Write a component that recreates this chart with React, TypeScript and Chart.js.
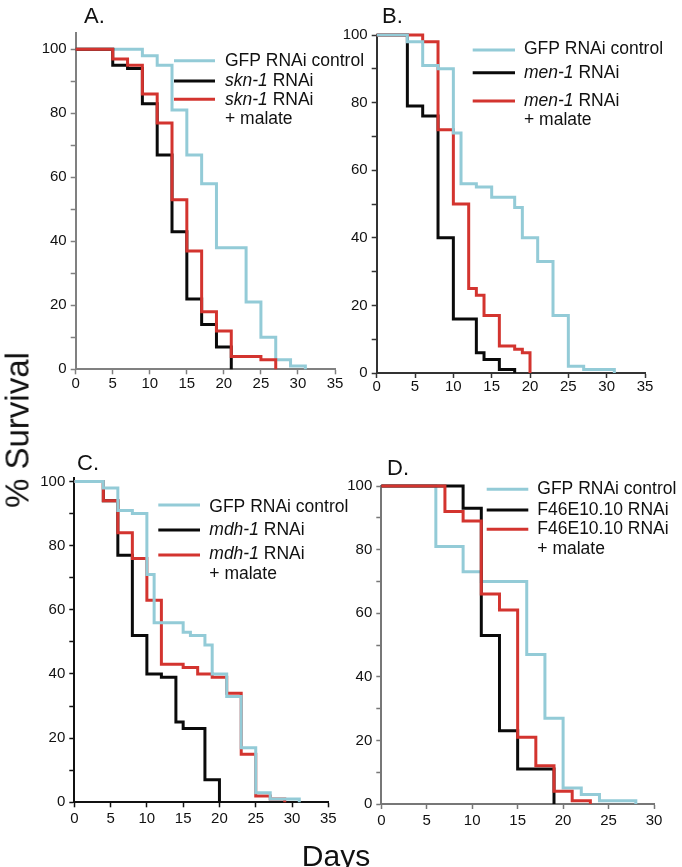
import React, { useEffect, useRef } from "react";
import { Chart, registerables } from "chart.js";

Chart.register(...registerables);

// ---------- DATA ----------
// Panel A
const aDaysGfp = [0, 9, 11, 13, 15, 17, 19, 23, 25, 27, 29, 31];
const aSurvGfp = [100, 98, 95, 81, 67, 58, 38, 21, 10, 3, 1, 0];
const aDaysSkn = [0, 5, 7, 9, 11, 13, 15, 17, 19, 21];
const aSurvSkn = [100, 95, 94, 83, 67, 43, 22, 14, 7, 0];
const aDaysSknMal = [0, 5, 7, 9, 11, 13, 15, 17, 19, 21, 25, 27];
const aSurvSknMal = [100, 97, 95, 86, 77, 53, 37, 18, 12, 4, 3, 0];

// Panel B
const bDaysGfp = [0, 4, 6, 8, 10, 11, 13, 15, 18, 19, 21, 23, 25, 27, 31];
const bSurvGfp = [100, 98, 91, 90, 71, 56, 55, 52, 49, 40, 33, 17, 2, 1, 0];
const bDaysMen = [0, 4, 6, 8, 10, 13, 14, 16, 18];
const bSurvMen = [100, 79, 76, 40, 16, 6, 4, 1, 0];
const bDaysMenMal = [0, 6, 8, 10, 12, 13, 14, 16, 18, 19, 20];
const bSurvMenMal = [100, 98, 72, 50, 25, 23, 17, 8, 7, 6, 0];

// Panel C
const cDaysGfp = [0, 4, 6, 8, 10, 11, 15, 16, 18, 19, 21, 23, 25, 27, 31];
const cSurvGfp = [100, 98, 91, 90, 71, 56, 53, 52, 49, 40, 33, 17, 3, 1, 0];
const cDaysMdh = [0, 4, 6, 8, 10, 12, 14, 15, 18, 20];
const cSurvMdh = [100, 94, 77, 52, 40, 39, 25, 23, 7, 0];
const cDaysMdhMal = [0, 4, 6, 8, 10, 12, 15, 17, 19, 21, 23, 25, 27, 29];
const cSurvMdhMal = [100, 94, 84, 76, 63, 43, 42, 40, 39, 34, 15, 2, 1, 0];

// Panel D
const dDaysGfp = [0, 6, 9, 11, 16, 18, 20, 22, 24, 28];
const dSurvGfp = [100, 81, 73, 70, 47, 27, 5, 3, 1, 0];
const dDaysF46 = [0, 9, 11, 13, 15, 19];
const dSurvF46 = [100, 93, 53, 23, 11, 0];
const dDaysF46Mal = [0, 7, 9, 11, 13, 15, 17, 19, 21, 23];
const dSurvF46Mal = [100, 92, 89, 66, 61, 21, 12, 4, 1, 0];

const yTickValues = [0, 10, 20, 30, 40, 50, 60, 70, 80, 90, 100];

// ---------- STYLE ----------
const BLUE = "#93cbd7";
const BLACK = "#0a0a0a";
const RED = "#d3342f";
const FONT = '"Liberation Sans", Arial, Helvetica, sans-serif';

function stepPoints(days: number[], surv: number[]) {
  const pts: { x: number; y: number }[] = [{ x: days[0], y: surv[0] }];
  for (let i = 1; i < days.length; i++) {
    pts.push({ x: days[i], y: surv[i - 1] });
    pts.push({ x: days[i], y: surv[i] });
  }
  return pts;
}

type Part = { t: string; it?: boolean };
type LegendRow = { color?: string; lineY?: number; textY: number; parts: Part[] };

type PanelCfg = {
  left: number;
  top: number;
  width: number;
  height: number;
  xMax: number;
  yMax: number;
  axisW: number;
  axisH: number;
  padTop: number;
  padRight: number;
  xPad: number;
  axisColor: string;
  letter: string;
  letterX: number;
  letterY: number;
  lineX1: number;
  lineX2: number;
  textX: number;
  legend: LegendRow[];
  series: { days: number[]; surv: number[]; color: string; order: number }[];
};

const decoPlugin = {
  id: "panelDeco",
  afterDraw(chart: any, _args: any, opts: any) {
    const cfg: PanelCfg = opts.cfg;
    if (!cfg) return;
    const ctx = chart.ctx;
    ctx.save();
    // panel letter
    ctx.fillStyle = "#111";
    ctx.textBaseline = "alphabetic";
    ctx.textAlign = "left";
    ctx.font = `22px ${FONT}`;
    ctx.fillText(cfg.letter, cfg.letterX, cfg.letterY);
    // legend
    for (const row of cfg.legend) {
      if (row.color && row.lineY !== undefined) {
        ctx.strokeStyle = row.color;
        ctx.lineWidth = 3;
        ctx.beginPath();
        ctx.moveTo(cfg.lineX1, row.lineY);
        ctx.lineTo(cfg.lineX2, row.lineY);
        ctx.stroke();
      }
      let x = cfg.textX;
      ctx.textBaseline = "middle";
      ctx.fillStyle = "#111";
      for (const p of row.parts) {
        ctx.font = `${p.it ? "italic " : ""}17.5px ${FONT}`;
        ctx.fillText(p.t, x, row.textY);
        x += ctx.measureText(p.t).width;
      }
    }
    ctx.restore();
  },
};

function Panel({ cfg }: { cfg: PanelCfg }) {
  const ref = useRef<HTMLCanvasElement | null>(null);
  useEffect(() => {
    if (!ref.current) return;
    const tickFont = { family: FONT, size: 15 };
    const chart = new Chart(ref.current, {
      type: "line",
      data: {
        datasets: cfg.series.map((s) => ({
          data: stepPoints(s.days, s.surv),
          borderColor: s.color,
          borderWidth: 3,
          pointRadius: 0,
          fill: false,
          tension: 0,
          order: s.order,
          clip: 6,
          borderJoinStyle: "miter" as const,
        })),
      },
      options: {
        animation: false,
        responsive: false,
        devicePixelRatio: 1,
        parsing: false as any,
        layout: { padding: { left: 0, top: cfg.padTop, right: cfg.padRight, bottom: 0 } },
        plugins: {
          legend: { display: false },
          tooltip: { enabled: false },
          panelDeco: { cfg },
        } as any,
        scales: {
          x: {
            type: "linear",
            min: 0,
            max: cfg.xMax,
            ticks: {
              stepSize: 5,
              font: tickFont,
              color: "#111",
              padding: cfg.xPad,
              maxRotation: 0,
              autoSkip: false,
            },
            grid: {
              display: true,
              drawOnChartArea: false,
              drawTicks: true,
              tickLength: 5,
              tickColor: cfg.axisColor,
              tickWidth: 1.5,
            },
            border: { display: true, color: cfg.axisColor, width: 2 },
            afterFit: (s: any) => {
              s.height = cfg.axisH;
            },
          },
          y: {
            type: "linear",
            min: 0,
            max: cfg.yMax,
            afterBuildTicks: (s: any) => {
              s.ticks = yTickValues.map((v) => ({ value: v }));
            },
            ticks: {
              font: tickFont,
              color: "#111",
              padding: 4,
              autoSkip: false,
              callback: (v: any) => (Number(v) % 20 === 0 ? String(v) : ""),
            },
            grid: {
              display: true,
              drawOnChartArea: false,
              drawTicks: true,
              tickLength: 5,
              tickColor: cfg.axisColor,
              tickWidth: 1.5,
            },
            border: { display: true, color: cfg.axisColor, width: 2 },
            afterFit: (s: any) => {
              s.width = cfg.axisW;
            },
          },
        } as any,
      },
      plugins: [decoPlugin],
    });
    return () => chart.destroy();
  }, [cfg]);
  return (
    <canvas
      ref={ref}
      width={cfg.width}
      height={cfg.height}
      style={{
        position: "absolute",
        left: cfg.left,
        top: cfg.top,
        width: cfg.width,
        height: cfg.height,
      }}
    />
  );
}

const panelA: PanelCfg = {
  left: 0,
  top: 0,
  width: 370,
  height: 400,
  xMax: 35,
  yMax: 105,
  axisW: 75.7,
  axisH: 30.7,
  padTop: 33.3,
  padRight: 35,
  xPad: 1,
  axisColor: "#808080",
  letter: "A.",
  letterX: 84,
  letterY: 23,
  lineX1: 174,
  lineX2: 215,
  textX: 225,
  legend: [
    { color: BLUE, lineY: 60.7, textY: 60.7, parts: [{ t: "GFP RNAi control" }] },
    { color: BLACK, lineY: 81, textY: 81, parts: [{ t: "skn-1", it: true }, { t: " RNAi" }] },
    { color: RED, lineY: 99.3, textY: 100, parts: [{ t: "skn-1", it: true }, { t: " RNAi" }] },
    { textY: 119.3, parts: [{ t: "+ malate" }] },
  ],
  series: [
    { days: aDaysGfp, surv: aSurvGfp, color: BLUE, order: 3 },
    { days: aDaysSkn, surv: aSurvSkn, color: BLACK, order: 2 },
    { days: aDaysSknMal, surv: aSurvSknMal, color: RED, order: 1 },
  ],
};

const panelB: PanelCfg = {
  left: 330,
  top: 0,
  width: 352,
  height: 400,
  xMax: 35,
  yMax: 100,
  axisW: 46.7,
  axisH: 27,
  padTop: 35,
  padRight: 37,
  xPad: 0,
  axisColor: "#333333",
  letter: "B.",
  letterX: 52,
  letterY: 23,
  lineX1: 472.7 - 330,
  lineX2: 515 - 330,
  textX: 524 - 330,
  legend: [
    { color: BLUE, lineY: 50, textY: 49.3, parts: [{ t: "GFP RNAi control" }] },
    { color: BLACK, lineY: 72.7, textY: 73.3, parts: [{ t: "men-1", it: true }, { t: " RNAi" }] },
    { color: RED, lineY: 101, textY: 101, parts: [{ t: "men-1", it: true }, { t: " RNAi" }] },
    { textY: 120, parts: [{ t: "+ malate" }] },
  ],
  series: [
    { days: bDaysGfp, surv: bSurvGfp, color: BLUE, order: 1 },
    { days: bDaysMen, surv: bSurvMen, color: BLACK, order: 3 },
    { days: bDaysMenMal, surv: bSurvMenMal, color: RED, order: 2 },
  ],
};

const panelC: PanelCfg = {
  left: 0,
  top: 420,
  width: 360,
  height: 420,
  xMax: 35,
  yMax: 101,
  axisW: 74.3,
  axisH: 37.7,
  padTop: 58.3,
  padRight: 31.7,
  xPad: 3,
  axisColor: "#111111",
  letter: "C.",
  letterX: 77,
  letterY: 50,
  lineX1: 158.3,
  lineX2: 200,
  textX: 209.3,
  legend: [
    { color: BLUE, lineY: 85, textY: 86.7, parts: [{ t: "GFP RNAi control" }] },
    { color: BLACK, lineY: 110, textY: 110, parts: [{ t: "mdh-1", it: true }, { t: " RNAi" }] },
    { color: RED, lineY: 135, textY: 134.3, parts: [{ t: "mdh-1", it: true }, { t: " RNAi" }] },
    { textY: 154, parts: [{ t: "+ malate" }] },
  ],
  series: [
    { days: cDaysGfp, surv: cSurvGfp, color: BLUE, order: 1 },
    { days: cDaysMdh, surv: cSurvMdh, color: BLACK, order: 3 },
    { days: cDaysMdhMal, surv: cSurvMdhMal, color: RED, order: 2 },
  ],
};

const panelD: PanelCfg = {
  left: 330,
  top: 420,
  width: 352,
  height: 420,
  xMax: 30,
  yMax: 100,
  axisW: 51.3,
  axisH: 36,
  padTop: 66,
  padRight: 28,
  xPad: 3,
  axisColor: "#777777",
  letter: "D.",
  letterX: 57,
  letterY: 55,
  lineX1: 486.7 - 330,
  lineX2: 528.3 - 330,
  textX: 537.3 - 330,
  legend: [
    { color: BLUE, lineY: 69.3, textY: 69.3, parts: [{ t: "GFP RNAi control" }] },
    { color: BLACK, lineY: 90, textY: 90, parts: [{ t: "F46E10.10 RNAi" }] },
    { color: RED, lineY: 109.3, textY: 109.3, parts: [{ t: "F46E10.10 RNAi" }] },
    { textY: 129.3, parts: [{ t: "+ malate" }] },
  ],
  series: [
    { days: dDaysGfp, surv: dSurvGfp, color: BLUE, order: 3 },
    { days: dDaysF46, surv: dSurvF46, color: BLACK, order: 2 },
    { days: dDaysF46Mal, surv: dSurvF46Mal, color: RED, order: 1 },
  ],
};

export default function App() {
  return (
    <div
      style={{
        position: "absolute",
        left: 0,
        top: 0,
        width: 682,
        height: 867,
        background: "#ffffff",
        overflow: "hidden",
        fontFamily: FONT,
      }}
    >
      <Panel cfg={panelA} />
      <Panel cfg={panelB} />
      <Panel cfg={panelC} />
      <Panel cfg={panelD} />
      <div
        style={{
          position: "absolute",
          left: 17,
          top: 430,
          transform: "translate(-50%, -50%) rotate(-90deg)",
          fontSize: 33,
          color: "#111",
          whiteSpace: "nowrap",
          lineHeight: 1,
        }}
      >
        % Survival
      </div>
      <div
        style={{
          position: "absolute",
          left: 336,
          top: 856,
          transform: "translate(-50%, -50%)",
          fontSize: 30,
          color: "#111",
          whiteSpace: "nowrap",
          lineHeight: 1,
        }}
      >
        Days
      </div>
    </div>
  );
}
